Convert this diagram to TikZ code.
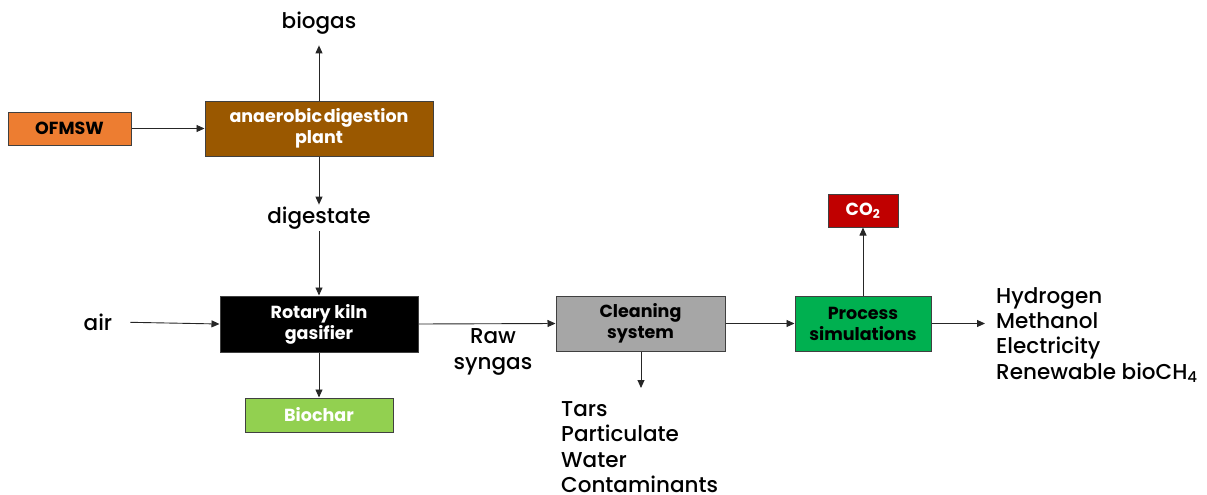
\documentclass[tikz,border=0pt]{standalone}
\usepackage{fontspec}
\setmainfont{Poppins}
\newfontfamily\medfont{Poppins Medium}
\usetikzlibrary{arrows.meta}
\definecolor{ofm}{HTML}{ED7D31}
\definecolor{brownbox}{HTML}{9A5800}
\definecolor{lgreen}{HTML}{92D050}
\definecolor{dgreen}{HTML}{00B050}
\definecolor{redbox}{HTML}{C00000}
\definecolor{graybox}{HTML}{A6A6A6}
\begin{document}
\begin{tikzpicture}[x=1pt,y=-1pt,
  box/.style={draw=black!75, line width=1pt, inner sep=0pt, align=center,
    font=\bfseries\fontsize{17.5}{21}\selectfont},
  lbl/.style={inner sep=2pt, align=left, font=\medfont\fontsize{21.5}{25.3}\selectfont},
  arr/.style={-{Triangle[length=8pt,width=7pt]}, line width=0.9pt, draw=black!85}]
\path[use as bounding box] (0,0) rectangle (1207,495);
% boxes
\node[box, fill=ofm, minimum width=123pt, minimum height=33pt] (ofmsw) at (69.5,128.5) {OFMSW};
\node[box, fill=brownbox, text=white, minimum width=228pt, minimum height=55pt] (adp) at (319,128.5) {anaerobic\hspace{-0.12em} digestion\\plant};
\node[box, fill=black, text=white, minimum width=198pt, minimum height=56pt] (kiln) at (319,324) {Rotary kiln\\gasifier};
\node[box, fill=lgreen, text=white, minimum width=148pt, minimum height=34pt] (biochar) at (319,415) {Biochar};
\node[box, fill=graybox, minimum width=169pt, minimum height=55pt] (clean) at (640.5,323.5) {Cleaning\\system};
\node[box, fill=dgreen, minimum width=136pt, minimum height=55pt] (proc) at (863,323.5) {Process\\simulations};
\node[box, fill=redbox, text=white, minimum width=70pt, minimum height=33pt] (co2) at (863,210.5) {CO\textsubscript{2}};
% labels
\node[lbl] (biogas) at (319,23) {biogas};
\node[lbl] (digestate) at (319,218) {digestate};
\node[lbl] (air) at (98,322) {air};
\node[lbl, align=center] (raw) at (493,352) {Raw\\syngas};
\node[lbl, anchor=west] (tars) at (559,447) {Tars\\Particulate\\Water\\Contaminants};
\node[lbl, anchor=west] (out) at (994,335) {Hydrogen\\Methanol\\Electricity\\Renewable bioCH\textsubscript{4}};
\coordinate (tarsin) at (641,388);
\coordinate (outin) at (985,323.5);
% connectors
\draw[arr] (ofmsw) -- (adp);
\draw[arr, shorten >=9pt] (adp.north) -- (biogas.south);
\draw[arr] (adp.south) -- (digestate.north);
\draw[arr] (digestate.south) -- (kiln.north);
\draw[arr, shorten <=16pt] (air.east) -- (kiln.west);
\draw[arr] (kiln.south) -- (biochar.north);
\draw[arr] (kiln.east) -- (clean.west);
\draw[arr] (clean.south -| tarsin) -- (tarsin);
\draw[arr] (clean.east) -- (proc.west);
\draw[arr] (proc.north) -- (co2.south);
\draw[arr] (proc.east) -- (outin);
\end{tikzpicture}
\end{document}
